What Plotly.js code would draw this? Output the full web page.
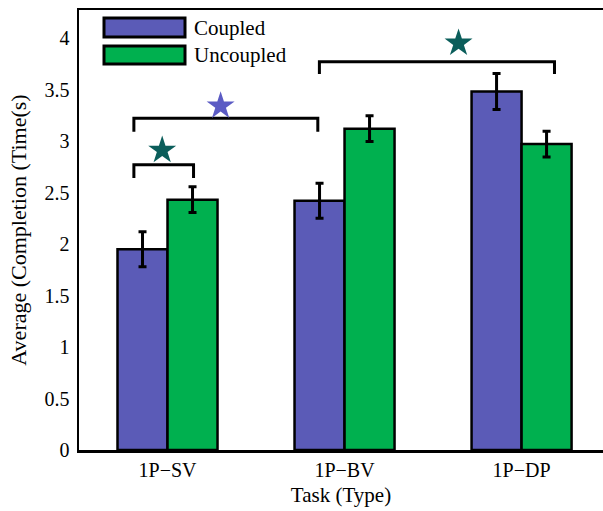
<!DOCTYPE html>
<html>
<head>
<meta charset="utf-8">
<script src="https://cdn.plot.ly/plotly-3.0.1.min.js"></script>
<style>html,body{margin:0;padding:0;background:#fff;}#chart{width:603px;height:511px;}</style>
</head>
<body>
<div id="chart"></div>
<script>
// ---- data ----
const categories = ["1P\u2212SV", "1P\u2212BV", "1P\u2212DP"];
const seriesNames = ["Coupled", "Uncoupled"];
const coupledMean = [1.95, 2.42, 3.48];
const coupledErr = [0.17, 0.17, 0.175];
const uncoupledMean = [2.43, 3.12, 2.97];
const uncoupledErr = [0.125, 0.125, 0.125];
// significance brackets: [x start, x end, y top, leg bottom] in data units
const bracketX0 = [-0.19, -0.19, 0.858];
const bracketX1 = [0.147, 0.849, 2.186];
const bracketTop = [2.77, 3.22, 3.77];
const bracketLeg = [2.64, 3.09, 3.65];
// stars
const starX = [-0.03, 0.30, 1.644];
const starY = [2.91, 3.34, 3.95];
const starColors = ["#0b5e5b", "#5b5bc4", "#0b5e5b"];

// ---- styles ----
const colCoupled = "#5b5bb7";
const colUncoupled = "#00b04f";
const font = "Liberation Serif, Times New Roman, serif";
const idx = categories.map((c, i) => i);

const traces = [
  {
    type: "bar", name: seriesNames[0], x: idx, y: coupledMean,
    marker: {color: colCoupled, line: {color: "#000", width: 2.5}},
    error_y: {type: "data", array: coupledErr, visible: true, color: "#000", thickness: 3, width: 4}
  },
  {
    type: "bar", name: seriesNames[1], x: idx, y: uncoupledMean,
    marker: {color: colUncoupled, line: {color: "#000", width: 2.5}},
    error_y: {type: "data", array: uncoupledErr, visible: true, color: "#000", thickness: 3, width: 4}
  }
];

// brackets as line traces
bracketX0.forEach((x0, i) => {
  traces.push({
    type: "scatter", mode: "lines", showlegend: false, hoverinfo: "skip",
    x: [x0, x0, bracketX1[i], bracketX1[i]],
    y: [bracketLeg[i], bracketTop[i], bracketTop[i], bracketLeg[i]],
    line: {color: "#000", width: 3}
  });
});
traces.push({
  type: "scatter", mode: "markers", showlegend: false, hoverinfo: "skip",
  x: starX, y: starY,
  marker: {symbol: "star", size: 21, color: starColors, line: {width: 0}}
});

// custom legend
const L = 79, R = 603, T = 10, B = 450;
const px = v => (v - L) / (R - L);
const py = v => (B - v) / (B - T);
const shapes = [
  {type: "rect", xref: "paper", yref: "paper", x0: px(104), x1: px(185), y0: py(37), y1: py(18),
   fillcolor: colCoupled, line: {color: "#000", width: 3}},
  {type: "rect", xref: "paper", yref: "paper", x0: px(104), x1: px(185), y0: py(64), y1: py(46),
   fillcolor: colUncoupled, line: {color: "#000", width: 3}}
];
const annotations = [
  {xref: "paper", yref: "paper", x: px(192), y: py(27.5), xanchor: "left", yanchor: "middle",
   text: seriesNames[0], showarrow: false, font: {family: font, size: 21, color: "#000"}},
  {xref: "paper", yref: "paper", x: px(192), y: py(55), xanchor: "left", yanchor: "middle",
   text: seriesNames[1], showarrow: false, font: {family: font, size: 21, color: "#000"}}
];

const layout = {
  width: 603, height: 511,
  margin: {l: 79, r: 0, t: 10, b: 61, pad: 0},
  paper_bgcolor: "#fff", plot_bgcolor: "#fff",
  font: {family: font, color: "#000", size: 20},
  showlegend: false,
  barmode: "group", bargap: 0.435, bargroupgap: 0,
  xaxis: {
    type: "linear", range: [-0.5, 2.46], tickvals: idx, ticktext: categories,
    showgrid: false, zeroline: false, showline: true, mirror: true, linecolor: "#000", linewidth: 2.5,
    ticks: "", tickfont: {family: font, size: 20, color: "#000"},
    title: {text: "Task (Type)", font: {family: font, size: 21, color: "#000"}, standoff: 8}
  },
  yaxis: {
    range: [0, 4.272], tickvals: [0, 0.5, 1, 1.5, 2, 2.5, 3, 3.5, 4],
    ticktext: ["0", "0.5", "1", "1.5", "2", "2.5", "3", "3.5", "4"],
    showgrid: false, zeroline: false, showline: true, linecolor: "#000", linewidth: 2.5,
    ticks: "", ticklabelstandoff: 3, tickfont: {family: font, size: 20, color: "#000"},
    title: {text: "Average (Completion (Time(s)", font: {family: font, size: 22, color: "#000"}, standoff: 12}
  },
  shapes: shapes,
  annotations: annotations
};

Plotly.newPlot("chart", traces, layout, {displayModeBar: false, staticPlot: true});
</script>
</body>
</html>
